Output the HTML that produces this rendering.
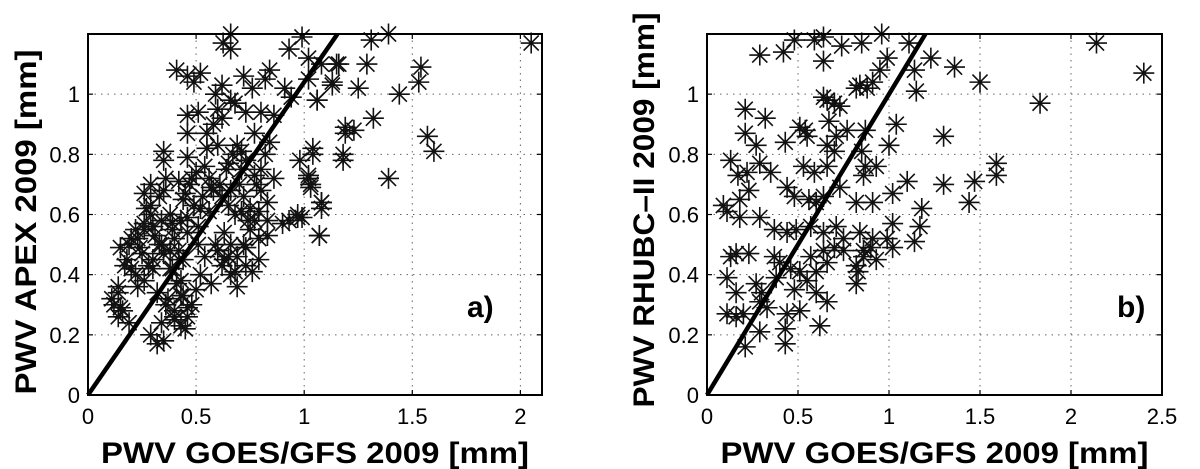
<!DOCTYPE html>
<html><head><meta charset="utf-8"><style>body{margin:0;background:#fff}svg{display:block}</style></head>
<body>
<svg id="fig" width="1200" height="469" xmlns="http://www.w3.org/2000/svg" font-family="Liberation Sans, sans-serif"></svg>
<script>
const xTicksA=[0,0.5,1,1.5,2];
const xTicksB=[0,0.5,1,1.5,2,2.5];
const yTicks=[0,0.2,0.4,0.6,0.8,1];
const ax=[0.66,0.625,0.66,0.99,0.93,1.02,0.41,0.46,0.52,0.49,0.62,0.72,0.84,0.82,0.91,0.94,1.02,1.13,1.16,1.08,0.59,0.68,0.66,0.76,0.8,0.86,1.06,0.46,0.51,0.62,0.73,0.55,0.46,0.6,0.69,0.71,0.84,0.77,0.35,0.35,0.46,0.54,0.65,0.73,0.71,0.77,0.86,0.98,1.04,1.02,1.03,1.08,1.18,1.19,0.26,0.29,0.35,0.42,0.48,0.45,0.57,0.62,0.66,0.8,0.83,0.9,0.97,0.29,0.26,0.39,0.46,0.52,0.68,0.74,0.79,
0.29,0.26,0.19,0.15,0.25,0.17,0.2,0.14,0.11,0.15,0.14,0.19,0.23,0.32,0.37,0.4,0.34,0.29,0.35,0.32,0.43,0.46,0.46,0.43,0.39,0.35,0.39,0.43,0.46,0.51,0.54,0.57,0.52,0.62,0.65,0.69,0.68,0.73,0.76,0.79,0.59,0.63,0.66,0.73,0.79,0.83,0.83,0.77,0.71,0.65,0.56,0.49,0.93,0.97,1.08,1.07,0.31,0.34,0.23,0.28,0.51,
2.05,1.54,1.53,1.44,1.29,1.25,1.31,1.39,1.32,1.19,1.23,1.18,1.04,1.57,1.6,1.39,1.02,1.03,1.08,1.07,0.99,1.13,1.15,1.06,0.36,0.4,0.44,0.5,0.42,0.38,0.3,0.33,
0.12,0.14,0.16,0.18,0.2,0.22,0.24,0.27,0.3,0.33,0.36,0.38,0.4,0.42,0.44,0.47,0.5,0.53,0.56,0.58,0.61,0.64,0.67,0.7,0.72,0.75,0.78,0.8,0.82,0.36,0.4,0.43,0.45,0.48,0.38,0.41,0.44,0.6,0.63,0.66,0.69,0.72,0.75,0.3,0.26,0.22,0.34,0.55,0.58,0.6];
const ay=[1.2,1.17,1.15,1.19,1.15,1.12,1.08,1.06,1.07,1.04,1.03,1.06,1.08,1.05,1.02,0.99,1.05,1.04,1.1,1.1,1.0,0.97,0.98,1.02,0.94,0.93,0.98,0.93,0.94,0.92,0.94,0.87,0.87,0.83,0.83,0.81,0.84,0.87,0.81,0.78,0.79,0.76,0.77,0.78,0.75,0.73,0.72,0.78,0.8,0.72,0.69,0.62,0.78,0.87,0.67,0.7,0.68,0.71,0.72,0.67,0.69,0.66,0.68,0.68,0.64,0.57,0.59,0.6,0.55,0.57,0.59,0.62,0.6,0.58,0.61,
0.63,0.57,0.5,0.49,0.47,0.43,0.42,0.34,0.32,0.29,0.26,0.24,0.36,0.34,0.32,0.28,0.24,0.2,0.18,0.17,0.23,0.26,0.29,0.38,0.42,0.47,0.55,0.58,0.54,0.5,0.46,0.37,0.4,0.43,0.46,0.36,0.41,0.43,0.41,0.45,0.5,0.54,0.5,0.49,0.52,0.53,0.58,0.58,0.61,0.63,0.61,0.63,0.58,0.6,0.64,0.53,0.53,0.58,0.52,0.43,0.56,
1.17,1.09,1.04,1.0,1.1,1.02,1.18,1.2,0.92,0.89,0.88,0.8,0.82,0.86,0.81,0.72,0.73,0.7,0.64,0.53,0.59,1.03,1.1,0.98,0.3,0.25,0.33,0.35,0.45,0.48,0.42,0.5,
0.3,0.36,0.28,0.45,0.52,0.4,0.49,0.62,0.56,0.66,0.72,0.6,0.52,0.48,0.65,0.7,0.74,0.66,0.72,0.68,0.7,0.75,0.8,0.7,0.66,0.62,0.7,0.75,0.8,0.3,0.26,0.33,0.22,0.3,0.42,0.37,0.45,0.48,0.45,0.4,0.46,0.5,0.55,0.45,0.38,0.55,0.5,0.82,0.9,0.95];
const bx=[0.29,0.42,0.48,0.59,0.64,0.74,0.85,0.96,1.11,0.64,0.99,0.95,1.14,1.23,1.36,1.5,1.15,0.84,0.88,0.82,0.91,0.64,0.66,0.7,0.73,1.83,2.14,2.4,0.21,0.32,0.21,0.27,0.43,0.51,0.54,0.55,0.67,0.71,0.77,0.87,1.04,1.3,1.0,0.66,0.7,0.85,0.13,0.17,0.22,0.29,0.35,0.53,0.59,0.66,0.73,0.87,0.93,0.86,1.1,1.3,1.47,1.59,1.59,1.44,0.23,0.18,0.09,0.11,0.18,0.29,0.44,0.48,0.56,0.6,0.64,0.82,0.91,1.02,1.18,1.17,1.14,1.02,0.99,1.02,0.37,0.44,0.49,0.57,0.64,0.71,0.75,0.7,0.84,0.86,0.9,0.93,0.82,0.83,0.82,0.86,0.91,0.16,0.13,0.23,0.11,0.16,0.11,0.16,0.2,0.21,0.29,0.27,0.3,0.29,0.33,0.37,0.4,0.46,0.38,0.48,0.51,0.55,0.44,0.51,0.43,0.43,0.6,0.66,0.6,0.62,0.57,0.64,0.66,0.75];
const by=[1.13,1.14,1.18,1.18,1.19,1.16,1.17,1.2,1.17,1.11,1.12,1.08,1.08,1.12,1.09,1.04,1.01,1.03,1.02,1.02,1.04,0.99,0.98,0.97,0.96,0.97,1.17,1.07,0.95,0.92,0.87,0.83,0.84,0.89,0.88,0.86,0.91,0.86,0.88,0.88,0.9,0.86,0.83,0.83,0.81,0.81,0.78,0.73,0.74,0.77,0.74,0.76,0.74,0.76,0.69,0.76,0.76,0.73,0.71,0.7,0.71,0.77,0.73,0.64,0.68,0.65,0.63,0.61,0.59,0.59,0.69,0.66,0.65,0.64,0.66,0.64,0.64,0.67,0.62,0.56,0.51,0.57,0.52,0.49,0.55,0.54,0.55,0.56,0.54,0.56,0.52,0.49,0.54,0.48,0.49,0.45,0.43,0.41,0.37,0.46,0.52,0.47,0.46,0.47,0.39,0.34,0.27,0.26,0.27,0.16,0.21,0.37,0.34,0.31,0.29,0.46,0.44,0.42,0.39,0.35,0.41,0.38,0.27,0.28,0.22,0.17,0.34,0.31,0.41,0.23,0.46,0.48,0.44,0.48];
const fitSlopeA=1.04, fitSlopeB=1.0;
const NS='http://www.w3.org/2000/svg';
const svg=document.getElementById('fig');
function mk(tag,at,parent){const e=document.createElementNS(NS,tag);for(const k in at)e.setAttribute(k,at[k]);(parent||svg).appendChild(e);return e;}
function panel(p){
  const g=mk('g',{});
  
  
  const sx=v=>p.x0+(v-0)/p.xmax*(p.x1-p.x0);
  const sy=v=>p.y0-(v/1.2)*(p.y0-p.y1);
  p.xt.forEach(t=>{const X=sx(t);
    if(t>0){const l=mk('line',{x1:X,x2:X,y1:p.y1,y2:p.y0,stroke:'#666','stroke-width':1,'stroke-dasharray':'1.5,5'},g);
    }
    mk('line',{x1:X,x2:X,y1:p.y0,y2:p.y0-5,stroke:'#000','stroke-width':1.2},g);
    mk('line',{x1:X,x2:X,y1:p.y1,y2:p.y1+5,stroke:'#000','stroke-width':1.2},g);
    const t1=mk('text',{x:X,y:p.y0+29,'font-size':22,'text-anchor':'middle'},g);t1.textContent=String(t);
    
  });
  yTicks.forEach(t=>{const Y=sy(t);
    if(t>0){const l=mk('line',{x1:p.x0,x2:p.x1,y1:Y,y2:Y,stroke:'#666','stroke-width':1,'stroke-dasharray':'1.5,5'},g);
    }
    mk('line',{x1:p.x0,x2:p.x0+5,y1:Y,y2:Y,stroke:'#000','stroke-width':1.2},g);
    mk('line',{x1:p.x1,x2:p.x1-5,y1:Y,y2:Y,stroke:'#000','stroke-width':1.2},g);
    const t1=mk('text',{x:p.x0-8,y:Y+8,'font-size':22,'text-anchor':'end'},g);t1.textContent=String(t);
    
  });
  const r=10.5,d=r*0.72;
  for(let i=0;i<p.xs.length;i++){
    const X=sx(p.xs[i]),Y=sy(p.ys[i]);
    const m=mk('path',{d:`M${X-r},${Y}H${X+r}M${X},${Y-r}V${Y+r}M${X-d},${Y-d}L${X+d},${Y+d}M${X-d},${Y+d}L${X+d},${Y-d}`,stroke:'#111','stroke-width':1.6,fill:'none'},g);
    
    
  }
  const xe=Math.min(1.2/p.slope,p.xmax);
  const fl=mk('line',{x1:sx(0),y1:sy(0),x2:sx(xe),y2:sy(xe*p.slope),stroke:'#000','stroke-width':4.5},g);
  
  
  const box=mk('rect',{x:p.x0,y:p.y1,width:p.x1-p.x0,height:p.y0-p.y1,fill:'none',stroke:'#000','stroke-width':2},g);
  
  
  const lab=mk('text',{x:p.lx,y:317,'font-size':30,'font-weight':'bold'},g);lab.textContent=p.label;
  
  const xt=mk('text',{x:(p.x0+p.x1)/2,y:463,'font-size':30,'font-weight':'bold','text-anchor':'middle',textLength:p.xtl,lengthAdjust:'spacingAndGlyphs'},g);
  xt.textContent='PWV GOES/GFS 2009 [mm]';
  
  const yt=mk('text',{x:0,y:0,'font-size':30,'font-weight':'bold','text-anchor':'middle',transform:`translate(${p.ytx},${p.ytc}) rotate(-90)`,textLength:p.ytl,lengthAdjust:'spacingAndGlyphs'},g);
  yt.textContent=p.ytitle;
  
}
panel({name:'panel-a',x0:88,x1:542,y0:395,y1:34,xmax:2.1,xt:xTicksA,xs:ax,ys:ay,slope:fitSlopeA,label:'a)',lx:467,xtl:428,ytitle:'PWV APEX 2009 [mm]',ytx:36,ytc:222,ytl:345});
panel({name:'panel-b',x0:707,x1:1162,y0:395,y1:34,xmax:2.5,xt:xTicksB,xs:bx,ys:by,slope:fitSlopeB,label:'b)',lx:1117,xtl:428,ytitle:'PWV RHUBC\u2013II 2009 [mm]',ytx:654,ytc:210,ytl:395});
</script>
</body></html>
